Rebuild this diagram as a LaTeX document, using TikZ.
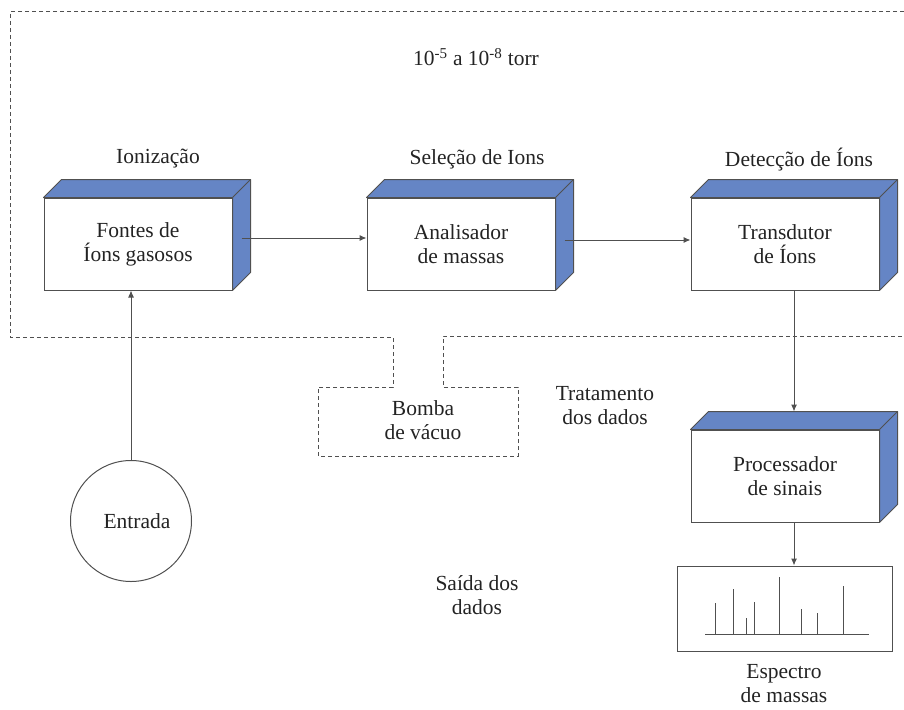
\documentclass[tikz,border=0pt]{standalone}
\usepackage{fontspec}
\usetikzlibrary{arrows.meta}
\setmainfont{Liberation Serif}
\definecolor{azul}{RGB}{101,133,197}
\definecolor{linha}{RGB}{80,80,80}
\definecolor{texto}{RGB}{35,35,35}
\tikzset{
    caixa/.style={draw=linha, fill=white, line width=1pt, minimum width=188pt, minimum height=92pt,
        align=center, text=texto, font=\fontsize{21.5}{24}\selectfont},
    lado/.style={fill=azul, draw=linha, line width=1pt, line join=round},
    rotulo/.style={align=center, text=texto, font=\fontsize{21.5}{24}\selectfont},
    tracejado/.style={draw=linha, line width=1pt, dash pattern=on 4pt off 3pt},
    seta/.style={draw=linha, line width=1pt, ->}
}
\begin{document}
\begin{tikzpicture}[>={Latex[length=7pt,width=6pt]}, x=1pt, y=-1pt]
\useasboundingbox (0,0) rectangle (904,709);

% regiao de vacuo
\draw[tracejado](904,12)--(10,12)--(10,337)--(393,337)--(393,387)--(318,387)--(318,456)
    --(518,456)--(518,387)--(443,387)--(443,336)--(904,336);
\node[rotulo] (pressao) at (476,57) {10\textsuperscript{-5} a 10\textsuperscript{-8} torr};

% caixas
\node[caixa] (fonte) at (138,244) {Fontes de\\Íons gasosos};
\node[caixa] (analisador) at (461,244) {Analisador\\de massas};
\node[caixa] (transdutor) at (785,244) {Transdutor\\de Íons};
\node[caixa] (processador) at (785,476) {Processador\\de sinais};
\foreach \n in {fonte,analisador,transdutor,processador}
{
    \filldraw[lado](\n.north west)--++(18,-18)--([shift={(18,-18)}]\n.north east)
        --([shift={(18,-18)}]\n.south east)--(\n.south east)--(\n.north east)--cycle;
    \draw[lado](\n.north east)--++(18,-18);
}

\node[rotulo] (ionizacao) at (158,159) {Ionização};
\node[rotulo] (selecao) at (477,159) {Seleção de Ions};
\node[rotulo] (deteccao) at (799,160) {Detecção de Íons};

\node[rotulo] (bomba) at (423,420) {Bomba\\de vácuo};
\node[rotulo] (tratamento) at (605,406) {Tratamento\\dos dados};
\node[rotulo] (saida) at (477,595) {Saída dos\\dados};

\node[draw=linha, line width=1pt, circle, minimum size=121pt, rotulo] (entrada) at (131,521) {\hspace{12pt}Entrada};

% espectro
\node[draw=linha, line width=1pt, minimum width=215pt, minimum height=85pt] (espectro) at (784.5,608.5) {};
\draw[linha, line width=1pt](705,634)--(869,634);
\foreach \x/\y in {715/603,733/589,746/618,754/602,779/577,801/609,817/613,843/586}
{
    \draw[linha, line width=1pt](\x,634)--(\x,\y);
}
\node[rotulo] (nomeespectro) at (784,684) {Espectro\\de massas};

% setas
\coordinate (s1) at ([shift={(9,-6)}]fonte.east);
\coordinate (s2) at ([shift={(9,-4)}]analisador.east);
\coordinate (s3) at ([xshift=9]transdutor.south);
\coordinate (s4) at ([xshift=9]processador.south);
\draw[seta](s1)--(s1 -| analisador.west);
\draw[seta](s2)--(s2 -| transdutor.west);
\draw[seta](s3)--([shift={(9,-18)}]processador.north);
\draw[seta](s4)--(s4 |- espectro.north);
\draw[seta](entrada)--(entrada |- fonte.south);

\end{tikzpicture}
\end{document}
